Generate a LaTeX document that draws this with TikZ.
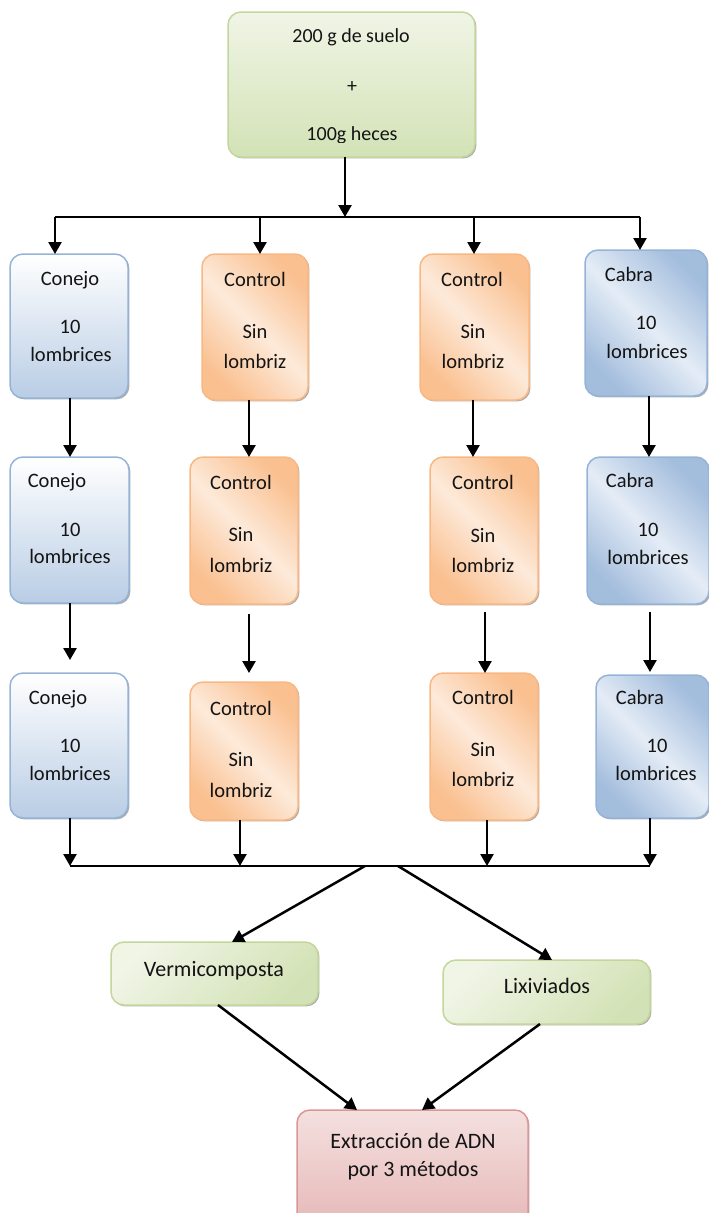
\documentclass[tikz,border=0pt]{standalone}
\usepackage{fontspec}
\setmainfont{Carlito}
\usetikzlibrary{arrows.meta,shadows,calc}

\definecolor{blueD}{HTML}{B9CDE5}
\definecolor{blueC}{HTML}{A3BDDD}
\definecolor{blueL}{HTML}{E4ECF6}
\definecolor{blueB}{HTML}{95B3D7}
\definecolor{orD}{HTML}{FAC090}
\definecolor{orL}{HTML}{FDEADA}
\definecolor{orB}{HTML}{F9B883}
\definecolor{grL}{HTML}{F0F5E6}
\definecolor{grD}{HTML}{D3E2B6}
\definecolor{grB}{HTML}{C3D69B}
\definecolor{pkL}{HTML}{F4E0DF}
\definecolor{pkD}{HTML}{E6B9B8}
\definecolor{pkB}{HTML}{D99694}

% diagonal "mirrored" fills: dark at two opposite corners, light band in between
\pgfdeclarehorizontalshading{mirrorO}{100bp}{color(0bp)=(orD); color(25bp)=(orD); color(50bp)=(orL); color(75bp)=(orD); color(100bp)=(orD)}
\pgfdeclarehorizontalshading{mirrorB}{100bp}{color(0bp)=(blueC); color(25bp)=(blueC); color(50bp)=(blueL); color(75bp)=(blueC); color(100bp)=(blueC)}

\newcommand\mybox[6]{%
  \node[#6, minimum width={(#4)-(#2)}, minimum height={(#5)-(#3)}] (#1)
    at ({((#2)+(#4))/2},{((#3)+(#5))/2}) {};}

\tikzset{
  boxbase/.style={rounded corners=13pt, inner sep=0pt, outer sep=0pt, line width=1.5pt,
    drop shadow={shadow xshift=1.4pt, shadow yshift=-1.4pt, fill=black!60, opacity=0.55}},
  rabbit/.style={boxbase, draw=blueB, top color=white, bottom color=blueD},
  goat/.style={boxbase, draw=blueB, shade, shading=mirrorB, shading angle=45},
  ctrl/.style={boxbase, draw=orB, shade, shading=mirrorO, shading angle=45},
  greentop/.style={boxbase, draw=grB, top color=grL, bottom color=grD},
  greenbox/.style={boxbase, draw=grB, left color=grL, right color=grD, shading angle=45},
  pinkbox/.style={boxbase, draw=pkB, top color=pkL, bottom color=pkD},
  txt/.style={anchor=base, inner sep=0pt, font=\fontsize{20.5}{24}\selectfont, text=black!92},
  ttop/.style={txt, font=\fontsize{20}{24}\selectfont},
  tbig/.style={txt, font=\fontsize{22}{26}\selectfont},
  arr/.style={line width=2.5pt, -{Triangle[length=12pt,width=13pt]}},
  rail/.style={line width=1.6pt}
}

\begin{document}
\begin{tikzpicture}[x=1pt,y=-1pt]
\useasboundingbox (0,0) rectangle (709,1213);

% ---------- source ----------
\mybox{src}{228}{12}{475}{157}{greentop}
\begin{scope}
  \clip (228,12) rectangle (475,142);
  \node[ttop] (s1) at (351,42) {200 g de suelo};
  \node[ttop] (s2) at (352,92) {+};
  \node[ttop] (s3) at (352,140) {100g heces};
\end{scope}

% ---------- row 1 ----------
\mybox{r1a}{10}{254}{128}{398}{rabbit}
\mybox{r1b}{202}{254}{308}{400}{ctrl}
\mybox{r1c}{420}{254}{529}{400}{ctrl}
\mybox{r1d}{585}{250}{707}{396}{goat}

\node[txt] (t1a1) at (70,285) {Conejo};
\node[txt] (t1a2) at (70,333) {10};
\node[txt] (t1a3) at (71,361) {lombrices};
\node[txt] (t1b1) at (255,286) {Control};
\node[txt] (t1b2) at (255,338) {Sin};
\node[txt] (t1b3) at (255,368) {lombriz};
\node[txt] (t1c1) at (472,286) {Control};
\node[txt] (t1c2) at (473,338) {Sin};
\node[txt] (t1c3) at (473,368) {lombriz};
\node[txt] (t1d1) at (629,281) {Cabra};
\node[txt] (t1d2) at (646,329) {10};
\node[txt] (t1d3) at (647,358) {lombrices};

% ---------- row 2 ----------
\mybox{r2a}{10}{457}{129}{603}{rabbit}
\mybox{r2b}{190}{457}{298}{604}{ctrl}
\mybox{r2c}{430}{457}{538}{604}{ctrl}
\mybox{r2d}{587}{457}{709}{604}{goat}

\node[txt] (t2a1) at (57,487) {Conejo};
\node[txt] (t2a2) at (70,536) {10};
\node[txt] (t2a3) at (70,563) {lombrices};
\node[txt] (t2b1) at (241,489) {Control};
\node[txt] (t2b2) at (241,541) {Sin};
\node[txt] (t2b3) at (241,572) {lombriz};
\node[txt] (t2c1) at (483,489) {Control};
\node[txt] (t2c2) at (483,542) {Sin};
\node[txt] (t2c3) at (483,572) {lombriz};
\node[txt] (t2d1) at (630,487) {Cabra};
\node[txt] (t2d2) at (648,536) {10};
\node[txt] (t2d3) at (648,564) {lombrices};

% ---------- row 3 ----------
\mybox{r3a}{10}{673}{128}{818}{rabbit}
\mybox{r3b}{190}{682}{298}{820}{ctrl}
\mybox{r3c}{430}{673}{538}{820}{ctrl}
\mybox{r3d}{596}{675}{709}{818}{goat}

\node[txt] (t3a1) at (58,704) {Conejo};
\node[txt] (t3a2) at (70,752) {10};
\node[txt] (t3a3) at (70,780) {lombrices};
\node[txt] (t3b1) at (241,715) {Control};
\node[txt] (t3b2) at (241,766) {Sin};
\node[txt] (t3b3) at (241,797) {lombriz};
\node[txt] (t3c1) at (483,704) {Control};
\node[txt] (t3c2) at (483,756) {Sin};
\node[txt] (t3c3) at (483,786) {lombriz};
\node[txt] (t3d1) at (640,704) {Cabra};
\node[txt] (t3d2) at (657,752) {10};
\node[txt] (t3d3) at (656,780) {lombrices};

% ---------- products ----------
\mybox{verm}{111}{942}{318}{1005}{greenbox}
\mybox{lix}{443}{960}{650}{1024}{greenbox}
\node[tbig] (tv) at (214,976) {Vermicomposta};
\node[tbig] (tl) at (547,993) {Lixiviados};

\mybox{adn}{297}{1110}{528}{1226}{pinkbox}
\node[tbig] (ta1) at (413,1148) {Extracción de ADN};
\node[tbig] (ta2) at (413,1176) {por 3 métodos};

% ---------- split rail ----------
\coordinate (sp) at (345,217);
\coordinate (sL) at (55,217);
\coordinate (sR) at (640,217);
\coordinate (sB) at (260,217);
\coordinate (sC) at (474,217);
\draw[arr] (src.south -| sp) -- (sp);
\draw[rail] (sL) -- (sR);
\draw[arr] (sL) -- (sL |- r1a.north);
\draw[arr] (sB) -- (sB |- r1b.north);
\draw[arr] (sC) -- (sC |- r1c.north);
\draw[arr] (sR) -- (sR |- r1d.north);

% ---------- row 1 -> row 2 ----------
\coordinate (xa) at (70,0);
\coordinate (xb) at (249,0);
\coordinate (xc) at (473,0);
\coordinate (xd) at (649,0);
\draw[arr] (r1a.south -| xa) -- (r2a.north -| xa);
\draw[arr] (r1b.south -| xb) -- (r2b.north -| xb);
\draw[arr] (r1c.south -| xc) -- (r2c.north -| xc);
\draw[arr] (r1d.south -| xd) -- (r2d.north -| xd);

% ---------- row 2 -> row 3 ----------
\coordinate (ya) at (70,0);
\coordinate (yb) at (249,0);
\coordinate (yc) at (485,0);
\coordinate (yd) at (650,0);
\draw[arr, shorten >=13pt] (r2a.south -| ya) -- (r3a.north -| ya);
\draw[arr, shorten <=10pt, shorten >=9pt] (r2b.south -| yb) -- (r3b.north -| yb);
\draw[arr, shorten <=8pt] (r2c.south -| yc) -- (r3c.north -| yc);
\draw[arr, shorten <=8pt, shorten >=3pt] (r2d.south -| yd) -- (r3d.north -| yd);

% ---------- join rail ----------
\coordinate (jA) at (70,866);
\coordinate (jB) at (240,866);
\coordinate (jC) at (487,866);
\coordinate (jD) at (650,866);
\draw[rail] (jA) -- (jD);
\draw[arr] (r3a.south -| jA) -- (jA);
\draw[arr] (r3b.south -| jB) -- (jB);
\draw[arr] (r3c.south -| jC) -- (jC);
\draw[arr] (r3d.south -| jD) -- (jD);

% ---------- to products ----------
\coordinate (dL) at (365,866);
\coordinate (dR) at (398,866);
\coordinate (vIn) at (232,942);
\coordinate (lIn) at (552,960);
\draw[arr] (dL) -- (vIn);
\draw[arr] (dR) -- (lIn);

\coordinate (vOut) at (218,1005);
\coordinate (lOut) at (540,1024);
\coordinate (aInL) at (357,1110);
\coordinate (aInR) at (422,1110);
\draw[arr] (vOut) -- (aInL);
\draw[arr] (lOut) -- (aInR);
\end{tikzpicture}
\end{document}
